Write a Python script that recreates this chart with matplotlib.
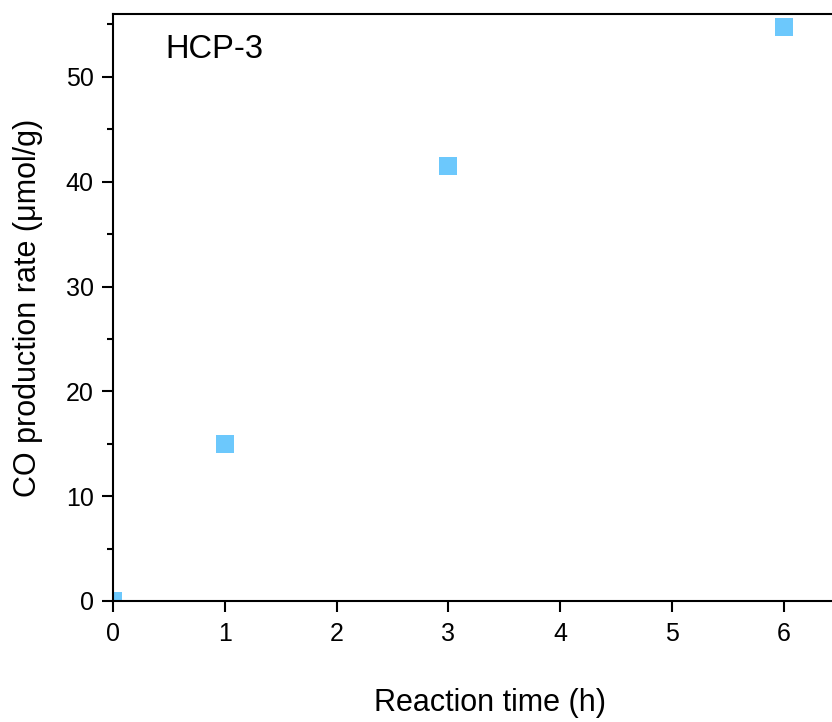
import matplotlib
matplotlib.use('Agg')
import matplotlib.pyplot as plt
from matplotlib.ticker import MultipleLocator

plt.rcParams['font.family'] = ['Liberation Sans', 'DejaVu Sans']

time_h = [0, 1, 3, 6]
co_rate = [0.0, 15.0, 41.5, 54.8]
sample = 'HCP-3'

fig = plt.figure(figsize=(8.32, 7.22), dpi=100)
W, H = 832, 722
x0, xr, y_bot, y_top = 113, 111.8, 601, 14
ax = fig.add_axes([x0 / W, (H - y_bot) / H, 7 * xr / W, (y_bot - y_top) / H])

ax.plot(time_h, co_rate, 's', color='#6CC8FC', markersize=13, markeredgewidth=0)

ax.set_xlim(0, 7)
ax.set_ylim(0, 56)
ax.set_xticks(range(0, 7))
ax.yaxis.set_major_locator(MultipleLocator(10))
ax.yaxis.set_minor_locator(MultipleLocator(5))

for s in ax.spines.values():
    s.set_linewidth(1.5)
ax.spines['right'].set_visible(False)
ax.tick_params(which='major', direction='out', length=8, width=1.5, labelsize=18)
ax.tick_params(which='minor', direction='out', length=4.5, width=1.5)
ax.tick_params(axis='y', which='major', pad=6)
ax.tick_params(axis='x', which='major', pad=7)

ax.set_xlabel('Reaction time (h)', fontsize=22)
ax.xaxis.set_label_coords(0.482, -0.148)
ax.set_ylabel('CO production rate (\u03bcmol/g)', fontsize=22)
ax.yaxis.set_label_coords(-0.0894, 0.5)

ax.text(0.0665, 0.9387, sample, transform=ax.transAxes, fontsize=23.5, va='center')

fig.savefig('out.png', dpi=100)
